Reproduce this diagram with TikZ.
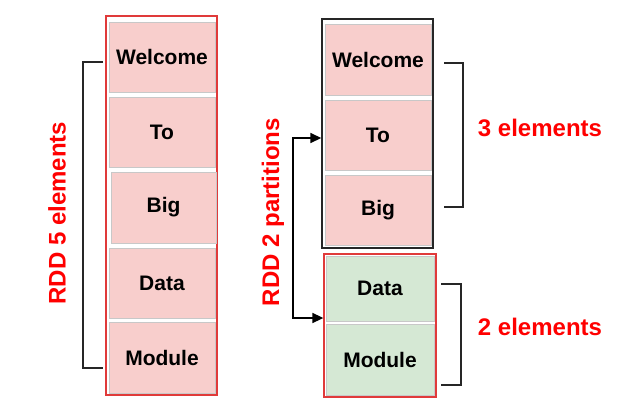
\documentclass[tikz,border=0pt]{standalone}
\usepackage{fontspec}
\setmainfont{Liberation Sans}
\usetikzlibrary{arrows.meta}
\definecolor{pinkfill}{HTML}{F8CECC}
\definecolor{greenfill}{HTML}{D5E8D4}
\definecolor{cellline}{HTML}{C8C8C8}
\definecolor{redline}{HTML}{E03A3A}
\definecolor{labelred}{HTML}{FF0000}
\begin{document}
\begin{tikzpicture}[x=1pt,y=-1pt,
  cell/.style={draw=cellline,line width=1pt,minimum width=106pt,inner sep=0pt,font=\fontsize{21}{25}\selectfont\bfseries},
  pinkcell/.style={cell,fill=pinkfill},
  greencell/.style={cell,fill=greenfill},
  outerred/.style={draw=redline,line width=1.3pt,inner sep=0pt},
  outerblack/.style={draw=black!85,line width=1.4pt,inner sep=0pt},
  bracket/.style={draw=black!85,line width=2.4pt},
  redlabel/.style={text=labelred,font=\fontsize{24}{28}\selectfont\bfseries,inner sep=0pt},
  conn/.style={draw=black,line width=1.6pt}
]
\useasboundingbox (0,0) rectangle (631,410);
\fill[white] (0,0) rectangle (631,410);

% left RDD
\node[outerred,minimum width=111pt,minimum height=379pt] (lout) at (161.5,205.5) {};
\node[pinkcell,minimum height=70pt] (lw) at (162,57) {Welcome};
\node[pinkcell,minimum height=70pt] (lt) at (162,132) {To};
\node[pinkcell,minimum height=71pt,minimum width=105pt] (lb) at (163.5,207.5) {Big};
\node[pinkcell,minimum height=70pt] (ld) at (162,283) {Data};
\node[pinkcell,minimum height=71pt] (lm) at (162,357.5) {Module};

% right partition 1
\node[outerblack,minimum width=111pt,minimum height=229pt] (rout1) at (377.5,133.5) {};
\node[pinkcell,minimum height=71pt] (rw) at (378,59.5) {Welcome};
\node[pinkcell,minimum height=70pt] (rt) at (378,135) {To};
\node[pinkcell,minimum height=70pt] (rb) at (378,210) {Big};

% right partition 2
\node[outerred,minimum width=112pt,minimum height=143pt] (rout2) at (380,325.5) {};
\node[greencell,minimum height=65pt,minimum width=108pt] (rd) at (380,288.5) {Data};
\node[greencell,minimum height=71pt,minimum width=108pt] (rm) at (380,359.5) {Module};

% labels
\node[redlabel,rotate=90] (l5) at (57,213) {RDD 5 elements};
\node[redlabel,rotate=90] (l2p) at (273,212) {RDD 2 partitions};
\node[redlabel] (l3) at (540,128) {3 elements};
\node[redlabel] (l2) at (540,327) {2 elements};

% brackets
\coordinate (lbt) at (103,62);
\coordinate (lbb) at (103,368);
\coordinate (lbx) at (83,0);
\draw[bracket] (lbt) -- (lbx |- lbt) -- (lbx |- lbb) -- (lbb);

\coordinate (rbt) at (444,63);
\coordinate (rbb) at (444,207);
\coordinate (rbx) at (463,0);
\draw[bracket] (rbt) -- (rbx |- rbt) -- (rbx |- rbb) -- (rbb);

\coordinate (gbt) at (441,284);
\coordinate (gbb) at (441,385);
\coordinate (gbx) at (461,0);
\draw[bracket] (gbt) -- (gbx |- gbt) -- (gbx |- gbb) -- (gbb);

% double arrow
\coordinate (ax) at (293,0);
\coordinate (a1) at (rout1.west |- 0,138);
\coordinate (a2) at (rout2.west |- 0,318);
\draw[conn,{Triangle[length=11pt,width=10pt]}-{Triangle[length=11pt,width=10pt]}] (a1) -- (ax |- a1) -- (ax |- a2) -- (a2);
\end{tikzpicture}
\end{document}
